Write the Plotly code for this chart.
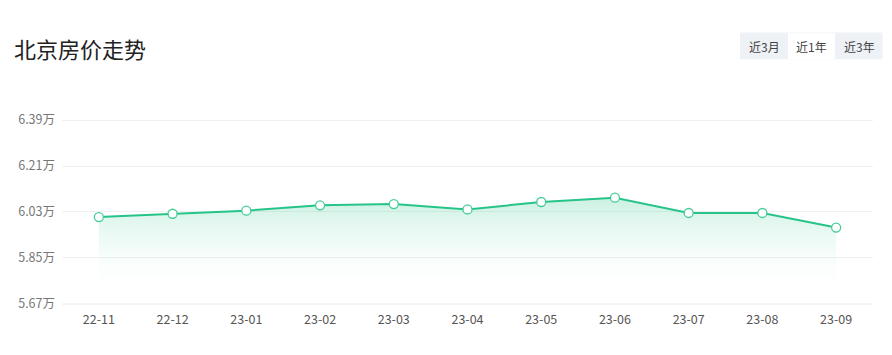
import plotly.graph_objects as go

months = ["22-11", "22-12", "23-01", "23-02", "23-03", "23-04", "23-05", "23-06", "23-07", "23-08", "23-09"]
prices = [6.010, 6.023, 6.035, 6.056, 6.061, 6.040, 6.069, 6.086, 6.026, 6.026, 5.969]
y_ticks = [5.67, 5.85, 6.03, 6.21, 6.39]
y_tick_labels = ["5.67万", "5.85万", "6.03万", "6.21万", "6.39万"]
title_text = "北京房价走势"
buttons = ["近3月", "近1年", "近3年"]

W, H = 892, 355
L, R, T, B = 62, 19, 118, 51
pw, ph = W - L - R, H - T - B

def px(x):
    return (x - L) / pw

def py(y):
    return (H - B - y) / ph

FONT = "Noto Sans CJK SC, Microsoft YaHei, sans-serif"
GREEN = "rgb(38,196,136)"

fig = go.Figure()
fig.add_trace(go.Scatter(
    x=months, y=prices, mode="lines+markers",
    line=dict(color=GREEN, width=2),
    marker=dict(size=9, color="white", line=dict(color="rgb(70,205,150)", width=1.3)),
    fill="tozeroy",
    fillgradient=dict(
        type="vertical",
        colorscale=[[0, "rgba(38,196,136,0.24)"], [1, "rgba(255,255,255,0)"]],
        start=max(prices), stop=5.70,
    ),
    hoverinfo="x+y", showlegend=False,
))

fig.update_layout(
    width=W, height=H,
    margin=dict(l=L, r=R, t=T, b=B),
    paper_bgcolor="white", plot_bgcolor="white",
    font=dict(family=FONT, size=12, color="#666"),
    xaxis=dict(
        type="category", range=[-0.5, len(months) - 0.5],
        showgrid=False, zeroline=False,
        showline=False, ticks="",
        tickfont=dict(size=12.5, color="#555"),
        ticklabelstandoff=6,
    ),
    yaxis=dict(
        range=[min(y_ticks) - 0.0005, max(y_ticks) + 0.008],
        tickvals=y_ticks, ticktext=y_tick_labels,
        showgrid=True, gridcolor="#eef0f2", gridwidth=1,
        zeroline=False, showline=False, ticks="",
        tickfont=dict(size=12.5, color="#777"),
        ticklabelstandoff=6,
    ),
    shapes=[
        dict(type="rect", xref="paper", yref="paper",
             x0=px(740), x1=px(882.5), y0=py(59.3), y1=py(32.5),
             fillcolor="#eef1f5", line=dict(width=0), layer="above"),
        dict(type="rect", xref="paper", yref="paper",
             x0=px(788), x1=px(835), y0=py(59), y1=py(33.3),
             fillcolor="white", line=dict(width=0), layer="above"),
        dict(type="line", xref="paper", yref="paper",
             x0=0, x1=1, y0=0, y1=0,
             line=dict(color="#e8eaed", width=1), layer="below"),
    ],
    annotations=[
        dict(text=title_text, xref="paper", yref="paper", x=px(12), y=py(48),
             xanchor="left", yanchor="middle", showarrow=False,
             font=dict(size=22, color="#222", family=FONT)),
    ] + [
        dict(text=b, xref="paper", yref="paper", x=px(cx), y=py(46.5),
             xanchor="center", yanchor="middle", showarrow=False,
             font=dict(size=12, color="#444", family=FONT))
        for b, cx in zip(buttons, [764, 811.5, 859])
    ],
)

fig.write_html("out.html")
